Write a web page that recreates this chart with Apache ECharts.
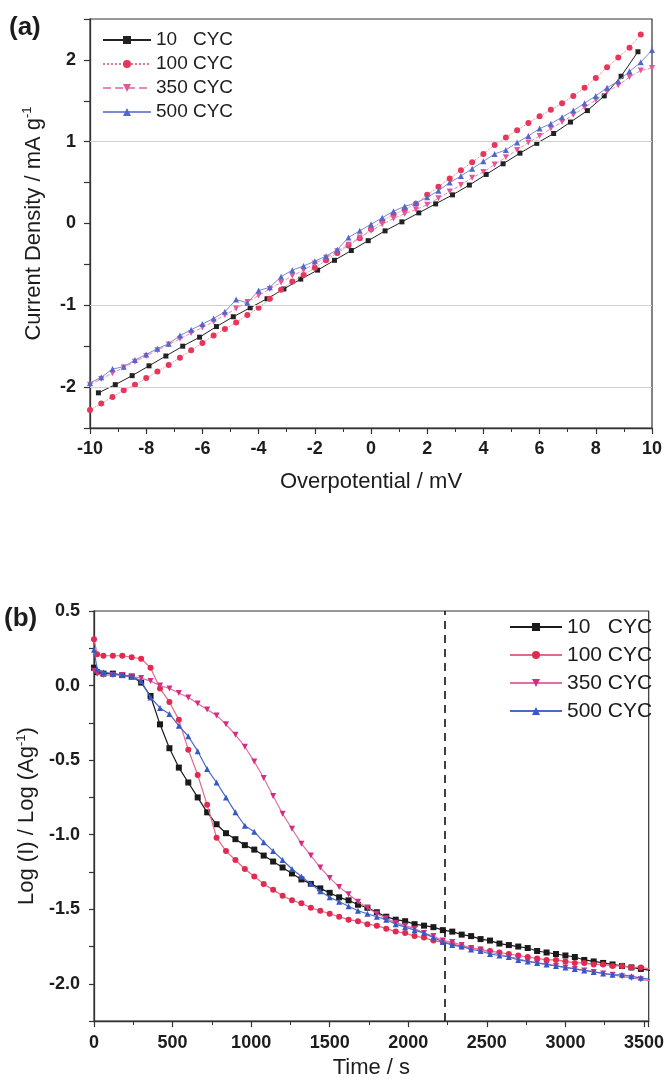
<!DOCTYPE html>
<html>
<head>
<meta charset="utf-8">
<script src="https://cdn.jsdelivr.net/npm/echarts@6/dist/echarts.min.js"></script>
<style>
  html, body { margin: 0; padding: 0; background: #fff; }
  #chartA { width: 667px; height: 540px; }
  #chartB { width: 667px; height: 544px; }
</style>
</head>
<body>
<div id="chartA"></div>
<div id="chartB"></div>
<script>
// ---- (a) linear polarization ----
const seriesNames = ['10   CYC', '100 CYC', '350 CYC', '500 CYC'];

const xDense = [-10, -9.6, -9.2, -8.8, -8.4, -8, -7.6, -7.2, -6.8, -6.4, -6, -5.6, -5.2, -4.8, -4.4, -4, -3.6, -3.2, -2.8, -2.4,
  -2, -1.6, -1.2, -0.8, -0.4, 0, 0.4, 0.8, 1.2, 1.6, 2, 2.4, 2.8, 3.2, 3.6, 4, 4.4, 4.8, 5.2, 5.6,
  6, 6.4, 6.8, 7.2, 7.6, 8, 8.4, 8.8, 9.2, 9.6, 10];
const xBlack = [-9.7, -9.1, -8.5, -7.9, -7.3, -6.7, -6.1, -5.5, -4.9, -4.3, -3.7, -3.1, -2.5, -1.9, -1.3, -0.7, -0.1,
  0.5, 1.1, 1.7, 2.3, 2.9, 3.5, 4.1, 4.7, 5.3, 5.9, 6.5, 7.1, 7.7, 8.3, 8.9, 9.5];

const cyc10A = [-2.07, -1.97, -1.86, -1.74, -1.62, -1.50, -1.39, -1.26, -1.14, -1.03, -0.92, -0.80, -0.68, -0.57, -0.45, -0.33, -0.21,
  -0.09, 0.02, 0.13, 0.24, 0.35, 0.47, 0.60, 0.73, 0.86, 0.98, 1.10, 1.24, 1.38, 1.56, 1.80, 2.10];
const cyc100A = [-2.28, -2.20, -2.12, -2.04, -1.97, -1.89, -1.81, -1.73, -1.64, -1.55, -1.46, -1.37, -1.29, -1.21, -1.12, -1.03, -0.92, -0.81, -0.71, -0.63,
  -0.54, -0.45, -0.36, -0.27, -0.18, -0.07, 0.03, 0.11, 0.17, 0.24, 0.35, 0.45, 0.55, 0.65, 0.75, 0.85, 0.96, 1.05, 1.14, 1.23,
  1.31, 1.39, 1.47, 1.56, 1.66, 1.78, 1.91, 2.03, 2.15, 2.31];
const cyc350A = [-1.97, -1.90, -1.83, -1.76, -1.69, -1.62, -1.55, -1.48, -1.41, -1.34, -1.27, -1.20, -1.12, -1.04, -0.96, -0.88, -0.80, -0.72, -0.64, -0.57,
  -0.49, -0.42, -0.34, -0.26, -0.17, -0.09, -0.01, 0.06, 0.12, 0.17, 0.23, 0.31, 0.39, 0.47, 0.56, 0.63, 0.72, 0.81, 0.90, 0.99,
  1.07, 1.16, 1.24, 1.33, 1.42, 1.51, 1.61, 1.69, 1.79, 1.87, 1.90];
const cyc500A = [-1.95, -1.88, -1.78, -1.75, -1.67, -1.60, -1.53, -1.47, -1.37, -1.30, -1.23, -1.16, -1.08, -0.93, -0.97, -0.82, -0.78, -0.65, -0.57, -0.52,
  -0.46, -0.40, -0.32, -0.17, -0.09, -0.01, 0.07, 0.15, 0.21, 0.25, 0.32, 0.40, 0.50, 0.58, 0.67, 0.76, 0.85, 0.90, 0.99, 1.07,
  1.16, 1.22, 1.30, 1.38, 1.47, 1.56, 1.66, 1.74, 1.86, 1.97, 2.12];
const gridLinesA = [1, -1, -2];

// ---- (b) chronoamperometry ----
const timeB = [0, 20, 60, 120, 180, 240, 300, 360, 420, 480, 540, 600, 660, 720, 780, 840, 900, 960, 1020, 1080,
  1140, 1200, 1260, 1320, 1380, 1440, 1500, 1560, 1620, 1680, 1740, 1800, 1860, 1920, 1980, 2040, 2100, 2160, 2220, 2280,
  2340, 2400, 2460, 2520, 2580, 2640, 2700, 2760, 2820, 2880, 2940, 3000, 3060, 3120, 3180, 3240, 3300, 3360, 3420, 3480, 3540];
const cyc10B = [0.12, 0.09, 0.08, 0.08, 0.07, 0.06, 0.02, -0.07, -0.26, -0.42, -0.55, -0.65, -0.75, -0.85, -0.93, -0.99, -1.03, -1.07, -1.10, -1.14,
  -1.18, -1.22, -1.26, -1.30, -1.33, -1.36, -1.39, -1.42, -1.44, -1.47, -1.49, -1.52, -1.55, -1.57, -1.58, -1.60, -1.61, -1.62, -1.64, -1.65,
  -1.67, -1.68, -1.70, -1.71, -1.73, -1.74, -1.75, -1.76, -1.78, -1.79, -1.80, -1.81, -1.82, -1.84, -1.85, -1.86, -1.87, -1.88, -1.89, -1.90, -1.91];
const cyc100B = [0.31, 0.21, 0.20, 0.20, 0.20, 0.19, 0.18, 0.12, -0.02, -0.11, -0.23, -0.43, -0.60, -0.80, -1.02, -1.11, -1.17, -1.23, -1.28, -1.33,
  -1.37, -1.41, -1.44, -1.46, -1.49, -1.51, -1.53, -1.55, -1.57, -1.58, -1.60, -1.61, -1.63, -1.65, -1.66, -1.68, -1.69, -1.71, -1.72, -1.73,
  -1.75, -1.76, -1.77, -1.78, -1.79, -1.80, -1.81, -1.82, -1.83, -1.84, -1.84, -1.85, -1.86, -1.86, -1.87, -1.87, -1.88, -1.88, -1.89, -1.89, -1.90];
const cyc350B = [0.10, 0.08, 0.07, 0.07, 0.07, 0.06, 0.05, 0.03, 0.00, -0.02, -0.05, -0.08, -0.12, -0.16, -0.20, -0.26, -0.33, -0.41, -0.51, -0.62,
  -0.74, -0.86, -0.96, -1.06, -1.14, -1.22, -1.29, -1.35, -1.40, -1.45, -1.49, -1.53, -1.56, -1.59, -1.61, -1.63, -1.66, -1.68, -1.71, -1.72,
  -1.74, -1.76, -1.77, -1.79, -1.80, -1.82, -1.83, -1.85, -1.86, -1.87, -1.88, -1.89, -1.90, -1.91, -1.92, -1.93, -1.94, -1.95, -1.96, -1.97, -1.98];
const cyc500B = [0.24, 0.11, 0.09, 0.08, 0.07, 0.06, 0.03, -0.08, -0.15, -0.19, -0.27, -0.34, -0.44, -0.56, -0.65, -0.75, -0.85, -0.94, -0.98, -1.05,
  -1.11, -1.17, -1.23, -1.28, -1.33, -1.38, -1.42, -1.45, -1.48, -1.51, -1.53, -1.55, -1.57, -1.60, -1.62, -1.64, -1.66, -1.69, -1.72, -1.74,
  -1.75, -1.77, -1.78, -1.80, -1.81, -1.82, -1.84, -1.85, -1.86, -1.87, -1.88, -1.89, -1.90, -1.91, -1.92, -1.93, -1.94, -1.94, -1.95, -1.96, -1.97];
const cutoffTime = 2230;

const font = "'Liberation Sans', Arial, sans-serif";
const ink = '#1c1c1c';

function pairs(xs, ys) {
  return ys.map((y, i) => [xs[i], y]);
}

function axisBase() {
  return {
    axisLine: {onZero: false, lineStyle: {color: '#333', width: 1.3}},
    axisTick: {inside: false, length: 6, lineStyle: {color: '#333', width: 1.2}},
    minorTick: {show: false},
    splitLine: {show: false},
    nameLocation: 'middle',
    nameTextStyle: {fontFamily: font, fontSize: 22, color: ink},
  };
}

// chart (a)
let chartA = echarts.init(document.getElementById('chartA'));
const colorsA = ['#222222', '#e6365c', '#e4569a', '#5567cc'];
const lineA = ['#222222', '#e47a8a', '#e88ab8', '#7a88d6'];
const symA = ['rect', 'circle', 'triangle', 'triangle'];
const rotA = [0, 0, 180, 0];
const dashA = ['solid', 'dotted', 'dashed', 'solid'];
const dataA = [pairs(xBlack, cyc10A), pairs(xDense, cyc100A), pairs(xDense, cyc350A), pairs(xDense, cyc500A)];

chartA.setOption({
  animation: false,
  backgroundColor: '#fff',
  graphic: [{type: 'text', left: 9, top: 15, style: {text: '(a)', font: 'bold 26px ' + font, fill: ink}}],
  grid: {left: 90, top: 19, width: 562, height: 409, show: true, borderColor: '#333', borderWidth: 1.2},
  legend: {
    orient: 'vertical', left: 97, top: 25, itemWidth: 48, itemHeight: 10, itemGap: 4,
    textStyle: {fontFamily: font, fontSize: 19, color: ink, lineHeight: 20},
    data: seriesNames
  },
  xAxis: Object.assign(axisBase(), {
    type: 'value', min: -10, max: 10, interval: 2,
    minorTick: {show: true, splitNumber: 2, length: 4, lineStyle: {color: '#333'}},
    axisLabel: {fontFamily: font, fontSize: 18, fontWeight: 'bold', color: ink, margin: 12},
    name: 'Overpotential / mV', nameGap: 43
  }),
  yAxis: Object.assign(axisBase(), {
    type: 'value', min: -2.5, max: 2.5, interval: 0.5,
    axisLabel: {
      fontFamily: font, fontSize: 18, fontWeight: 'bold', color: ink, margin: 14,
      formatter: v => Number.isInteger(v) ? String(v) : ''
    },
    name: 'Current Density / mA g{sup|-1}', nameGap: 44,
    nameTextStyle: {
      fontFamily: font, fontSize: 22, color: ink,
      rich: {sup: {fontFamily: font, fontSize: 13, color: ink, verticalAlign: 'top', padding: [0, 0, 12, 0]}}
    }
  }),
  series: seriesNames.map((name, i) => ({
    name: name,
    type: 'line',
    data: dataA[i],
    symbol: symA[i],
    symbolRotate: rotA[i],
    symbolSize: i === 0 ? 5 : 6,
    itemStyle: {color: colorsA[i]},
    lineStyle: {color: lineA[i], width: 1, type: dashA[i]},
    z: 3 + i,
    markLine: i === 0 ? {
      silent: true, symbol: 'none', label: {show: false},
      lineStyle: {color: '#cfcfcf', width: 1, type: 'solid'},
      data: gridLinesA.map(v => ({yAxis: v}))
    } : undefined
  }))
});

// chart (b)
let chartB = echarts.init(document.getElementById('chartB'));
const colorsB = ['#1a1a1a', '#e22a50', '#d42c80', '#3558c4'];
const lineB = ['#1a1a1a', '#e4688a', '#e070a4', '#4a68c8'];
const symB = ['rect', 'circle', 'triangle', 'triangle'];
const rotB = [0, 0, 180, 0];
const dataB = [pairs(timeB, cyc10B), pairs(timeB, cyc100B), pairs(timeB, cyc350B), pairs(timeB, cyc500B)];

chartB.setOption({
  animation: false,
  backgroundColor: '#fff',
  graphic: [{type: 'text', left: 4, top: 66, style: {text: '(b)', font: 'bold 26px ' + font, fill: ink}}],
  grid: {left: 94, top: 71, width: 568, height: 420, show: true, borderColor: '#333', borderWidth: 1.2},
  legend: {
    orient: 'vertical', left: 504, top: 70, itemWidth: 52, itemHeight: 10, itemGap: 4,
    textStyle: {fontFamily: font, fontSize: 21, color: ink, lineHeight: 24},
    data: seriesNames
  },
  xAxis: Object.assign(axisBase(), {
    type: 'value', min: 0, max: 3530, interval: 500,
    minorTick: {show: true, splitNumber: 2, length: 4, lineStyle: {color: '#333'}},
    axisLabel: {
      fontFamily: font, fontSize: 18, fontWeight: 'bold', color: ink, margin: 13,
      formatter: v => v % 500 === 0 ? String(v) : ''
    },
    name: 'Time / s', nameGap: 31
  }),
  yAxis: Object.assign(axisBase(), {
    type: 'value', min: -2.25, max: 0.5, interval: 0.25,
    axisTick: {inside: false, length: 5, lineStyle: {color: '#333', width: 1.2}},
    axisLabel: {
      fontFamily: font, fontSize: 18, fontWeight: 'bold', color: ink, margin: 14,
      formatter: v => Math.abs(v * 2 - Math.round(v * 2)) < 1e-6 ? v.toFixed(1) : ''
    },
    name: 'Log (I) / Log (Ag{sup|-1})', nameGap: 53,
    nameTextStyle: {
      fontFamily: font, fontSize: 22, color: ink,
      rich: {sup: {fontFamily: font, fontSize: 13, color: ink, verticalAlign: 'top', padding: [0, 0, 12, 0]}}
    }
  }),
  series: seriesNames.map((name, i) => ({
    name: name,
    type: 'line',
    data: dataB[i],
    symbol: symB[i],
    symbolRotate: rotB[i],
    symbolSize: 6,
    itemStyle: {color: colorsB[i]},
    lineStyle: {color: lineB[i], width: 1.2},
    z: 3 + i,
    markLine: i === 0 ? {
      silent: true, symbol: 'none', label: {show: false},
      lineStyle: {color: '#111', width: 1.6, type: [8, 6]},
      data: [{xAxis: cutoffTime}]
    } : undefined
  }))
});
</script>
</body>
</html>
